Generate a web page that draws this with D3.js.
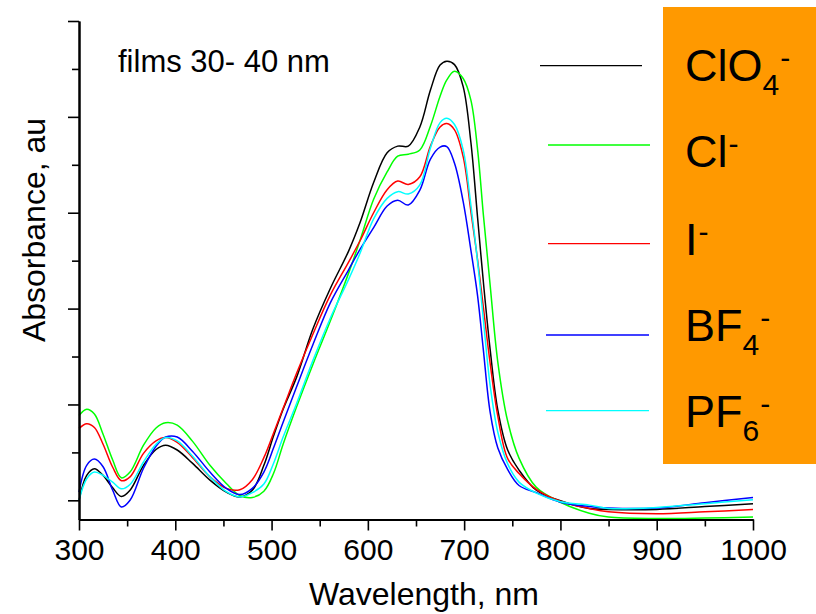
<!DOCTYPE html>
<html>
<head>
<meta charset="utf-8">
<script src="https://cdn.jsdelivr.net/npm/d3@7"></script>
<style>
  html, body { margin: 0; padding: 0; background: #fff; }
  svg { display: block; font-family: "Liberation Sans", Arial, sans-serif; }
</style>
</head>
<body>
<svg id="chart" width="816" height="614"></svg>
<script>
// Absorption spectra of polymer films (30-40 nm) doped with different anions
const wavelengths = [300, 308, 316, 325, 335, 344, 353, 367, 380, 390, 402, 418, 436, 453, 467,
  480, 492, 502, 512, 526, 543, 561, 580, 592, 606, 620, 631, 642, 654, 665, 675, 682, 690,
  699, 707, 714, 720, 727, 735, 745, 757, 775, 800, 830, 850, 900, 950, 1000];

const absClO4 = [0.000, 0.052, 0.066, 0.052, 0.026, 0.008, 0.021, 0.073, 0.106, 0.115, 0.105, 0.077, 0.042, 0.017, 0.007,
  0.021, 0.073, 0.134, 0.190, 0.257, 0.358, 0.442, 0.520, 0.580, 0.663, 0.725, 0.739, 0.739, 0.779, 0.856, 0.908, 0.916, 0.909,
  0.863, 0.747, 0.589, 0.455, 0.315, 0.188, 0.106, 0.063, 0.021, -0.001, -0.017, -0.019, -0.019, -0.013, -0.007];

const absCl = [0.177, 0.190, 0.180, 0.138, 0.084, 0.047, 0.059, 0.115, 0.151, 0.162, 0.157, 0.123, 0.073, 0.035, 0.010,
  0.006, 0.019, 0.056, 0.117, 0.195, 0.284, 0.374, 0.474, 0.543, 0.628, 0.685, 0.718, 0.722, 0.731, 0.781, 0.843, 0.877, 0.895,
  0.880, 0.835, 0.731, 0.595, 0.449, 0.288, 0.167, 0.088, 0.027, -0.004, -0.027, -0.035, -0.038, -0.037, -0.035];

const absI = [0.150, 0.160, 0.152, 0.117, 0.069, 0.041, 0.049, 0.098, 0.124, 0.131, 0.121, 0.089, 0.049, 0.025, 0.022,
  0.043, 0.089, 0.140, 0.192, 0.265, 0.347, 0.428, 0.497, 0.542, 0.600, 0.648, 0.666, 0.659, 0.675, 0.739, 0.779, 0.786, 0.773,
  0.717, 0.603, 0.501, 0.402, 0.286, 0.175, 0.088, 0.056, 0.023, -0.002, -0.017, -0.024, -0.028, -0.024, -0.019];

const absBF4 = [0.017, 0.073, 0.086, 0.070, 0.021, -0.014, 0.000, 0.067, 0.113, 0.132, 0.132, 0.102, 0.059, 0.025, 0.012,
  0.025, 0.059, 0.109, 0.163, 0.237, 0.325, 0.412, 0.481, 0.524, 0.569, 0.614, 0.626, 0.616, 0.647, 0.712, 0.737, 0.738, 0.703,
  0.623, 0.522, 0.426, 0.313, 0.184, 0.109, 0.065, 0.031, 0.016, -0.004, -0.013, -0.016, -0.016, -0.005, 0.006];

const absPF6 = [0.000, 0.045, 0.059, 0.052, 0.038, 0.024, 0.033, 0.080, 0.117, 0.131, 0.124, 0.092, 0.049, 0.018, 0.007,
  0.016, 0.034, 0.077, 0.132, 0.202, 0.292, 0.380, 0.461, 0.516, 0.587, 0.630, 0.644, 0.639, 0.658, 0.735, 0.788, 0.797, 0.784,
  0.731, 0.616, 0.497, 0.376, 0.240, 0.142, 0.077, 0.038, 0.015, -0.003, -0.010, -0.017, -0.015, -0.007, 0.001];

const seriesNames = ["ClO4", "Cl", "I", "BF4", "PF6"];
const seriesColors = ["#000000", "#00ff00", "#ff0000", "#0000ff", "#00ffff"];
const seriesValues = [absClO4, absCl, absI, absBF4, absPF6];

// legend labels: [main, subscript, superscript]
const legendLabels = [["ClO", "4", "-"], ["Cl", "", "-"], ["I", "", "-"], ["BF", "4", "-"], ["PF", "6", "-"]];

const xMajorTicks = [300, 400, 500, 600, 700, 800, 900, 1000];
const xMinorTicks = [350, 450, 550, 650, 750, 850, 950];
const yMajorTicks = [0, 0.2, 0.4, 0.6, 0.8, 1.0];
const yMinorTicks = [0.1, 0.3, 0.5, 0.7, 0.9];

const svg = d3.select("#chart");

const x = d3.scaleLinear().domain([300, 1000]).range([79, 753]);
const y = d3.scaleLinear().domain([-0.04, 1.0]).range([519.5, 21]);

// legend background panel
svg.append("rect")
  .attr("x", 663).attr("y", 7)
  .attr("width", 153).attr("height", 457)
  .attr("fill", "#ff9900");

// spectra
const line = d3.line()
  .x(d => x(d[0]))
  .y(d => y(d[1]))
  .curve(d3.curveCatmullRom.alpha(0.5));

seriesValues.forEach((vals, i) => {
  svg.append("path")
    .datum(wavelengths.map((w, k) => [w, vals[k]]))
    .attr("fill", "none")
    .attr("stroke", seriesColors[i])
    .attr("stroke-width", 1.5)
    .attr("stroke-linejoin", "round")
    .attr("d", line);
});

// axes
function styleAxis(g) {
  g.selectAll("path.domain").attr("stroke", "#000").attr("stroke-width", 2);
  g.selectAll(".tick line").attr("stroke", "#000").attr("stroke-width", 1.6);
}

const gx = svg.append("g").attr("transform", `translate(0,${y.range()[0]})`);
gx.call(d3.axisBottom(x).tickValues(xMajorTicks).tickSize(11).tickSizeOuter(0).tickPadding(8)
  .tickFormat(d3.format("d")))
  .call(styleAxis);
gx.selectAll(".tick text")
  .attr("font-size", 30)
  .attr("font-family", "Liberation Sans, Arial, sans-serif")
  .attr("fill", "#000");
svg.append("g").attr("transform", `translate(0,${y.range()[0]})`)
  .call(d3.axisBottom(x).tickValues(xMinorTicks).tickSize(7).tickSizeOuter(0).tickFormat(""))
  .call(styleAxis);

const gy = svg.append("g").attr("transform", `translate(${x.range()[0]},0)`);
gy.call(d3.axisLeft(y).tickValues(yMajorTicks).tickSize(11).tickSizeOuter(0).tickFormat(""))
  .call(styleAxis);
svg.append("g").attr("transform", `translate(${x.range()[0]},0)`)
  .call(d3.axisLeft(y).tickValues(yMinorTicks).tickSize(7).tickSizeOuter(0).tickFormat(""))
  .call(styleAxis);

// axis titles
svg.append("text")
  .attr("x", 424).attr("y", 605)
  .attr("text-anchor", "middle")
  .attr("font-size", 32)
  .text("Wavelength, nm");

svg.append("text")
  .attr("transform", "translate(45,230) rotate(-90)")
  .attr("text-anchor", "middle")
  .attr("font-size", 32)
  .text("Absorbance, au");

svg.append("text")
  .attr("x", 118).attr("y", 72)
  .attr("font-size", 31)
  .text("films 30- 40 nm");

// legend
const legendLineX = [[540, 642], [548, 650], [548, 650], [546, 649], [546, 649]];
const legendLineY = [65.7, 145, 243.7, 335, 410.7];
const legendBaseY = [81, 167, 255, 341, 427];

legendLabels.forEach((lab, i) => {
  svg.append("line")
    .attr("x1", legendLineX[i][0]).attr("x2", legendLineX[i][1])
    .attr("y1", legendLineY[i]).attr("y2", legendLineY[i])
    .attr("stroke", seriesColors[i])
    .attr("stroke-width", 1.3);

  const t = svg.append("text")
    .attr("x", 685).attr("y", legendBaseY[i])
    .attr("font-size", 45)
    .attr("fill", "#000");
  t.append("tspan").text(lab[0]);
  if (lab[1]) {
    t.append("tspan").attr("font-size", 30).attr("dy", 14).text(lab[1]);
    t.append("tspan").attr("font-size", 30).attr("dy", -27).attr("dx", 1).text(lab[2]);
  } else {
    t.append("tspan").attr("font-size", 30).attr("dy", -13).attr("dx", 1).text(lab[2]);
  }
});
</script>
</body>
</html>
